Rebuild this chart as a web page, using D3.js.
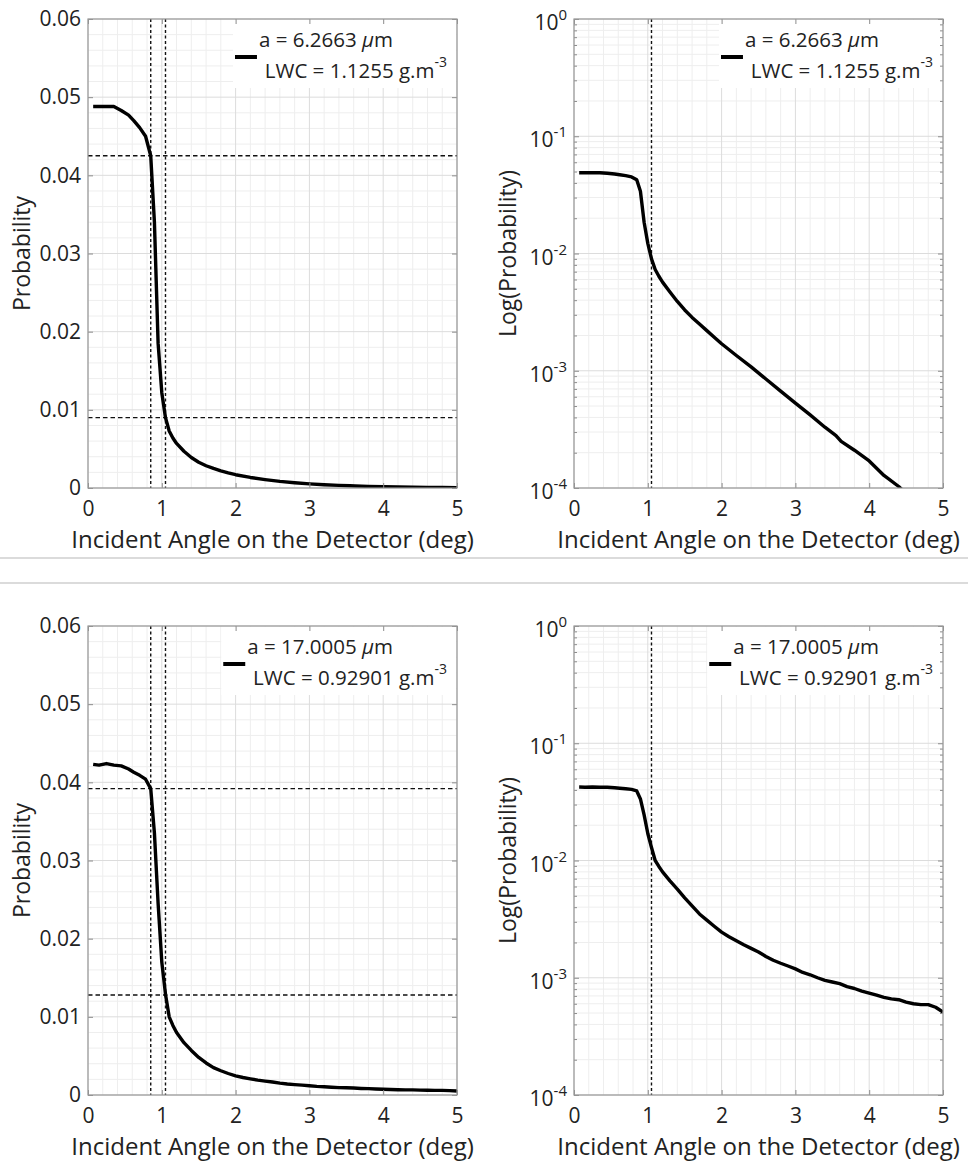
<html>
<head>
<meta charset="utf-8">
<script src="https://d3js.org/d3.v7.min.js"></script>
<style>
  body { margin: 0; background: #fff; }
  svg text { font-family: 'Open Sans', sans-serif; fill: #222; }
</style>
</head>
<body>
<svg id="chart" width="968" height="1165"></svg>
<script>
// angles (deg) and probabilities
var angleTop = [0.07,0.15,0.25,0.35,0.45,0.55,0.62,0.70,0.78,0.85,0.90,0.95,1.00,1.05,1.10,1.15,1.20,1.30,1.40,1.50,1.60,1.70,1.80,1.90,2.00,2.20,2.40,2.60,2.80,3.00,3.20,3.40,3.55,3.62,3.80,4.00,4.20,4.40,4.60,4.80,5.00];
var probTop = [0.0488,0.0488,0.0488,0.0488,0.0483,0.0477,0.0470,0.0461,0.0450,0.0425,0.0340,0.0185,0.0122,0.0090,0.0073,0.0064,0.0057,0.0047,0.0039,0.0033,0.00285,0.00250,0.00220,0.00193,0.00170,0.00135,0.00108,0.00085,0.00067,0.00053,0.00042,0.00033,0.00028,0.00025,0.00021,0.00017,0.000128,0.000103,0.000078,0.000062,0.000049];

var angleBottom = [0.07,0.15,0.25,0.35,0.45,0.55,0.62,0.70,0.78,0.85,0.90,0.95,1.00,1.05,1.10,1.15,1.20,1.30,1.40,1.50,1.60,1.70,1.80,1.90,2.00,2.10,2.20,2.30,2.40,2.50,2.60,2.70,2.80,2.90,3.00,3.10,3.20,3.30,3.40,3.50,3.60,3.70,3.80,3.90,4.00,4.10,4.20,4.30,4.40,4.50,4.60,4.70,4.80,4.90,5.00];
var probBottom = [0.0423,0.0422,0.0424,0.0422,0.0421,0.0417,0.0413,0.0409,0.0404,0.0392,0.0335,0.0245,0.0170,0.0129,0.0100,0.0089,0.0080,0.0067,0.0057,0.0048,0.0041,0.0035,0.0031,0.00275,0.00245,0.00224,0.00207,0.00191,0.00178,0.00166,0.00152,0.00141,0.00133,0.00126,0.00119,0.00111,0.00106,0.00100,0.00095,0.00092,0.00089,0.00084,0.00081,0.00077,0.00074,0.00071,0.00068,0.00066,0.00065,0.00062,0.00060,0.00059,0.00059,0.00056,0.00051];

// dashed guide lines
var vLinesLin = [0.85, 1.05];
var vLinesLog = [1.05];
var hLinesTop = [0.0425, 0.0090];
var hLinesBottom = [0.0392, 0.0128];

// legend texts
var legendTop = ["a = 6.2663 ", "LWC = 1.1255 g.m"];
var legendBottom = ["a = 17.0005 ", "LWC = 0.92901 g.m"];

var xTicks = [0, 1, 2, 3, 4, 5];
var yTicksLin = [0, 0.01, 0.02, 0.03, 0.04, 0.05, 0.06];
var yTicksLinLabels = ["0", "0.01", "0.02", "0.03", "0.04", "0.05", "0.06"];
var yTicksLog = [1e-4, 1e-3, 1e-2, 1e-1, 1];
var yTicksLogExp = ["-4", "-3", "-2", "-1", "0"];

var xLabel = "Incident Angle on the Detector (deg)";

var svg = d3.select("#chart");
var plotW = 369, plotH = 469;
var clipId = 0;

function panel(left, top, isLog, angles, probs, vLines, hLines, legend) {
  var g = svg.append("g").attr("transform", "translate(" + left + "," + top + ")");
  var x = d3.scaleLinear().domain([0, 5]).range([0, plotW]);
  var y = isLog ? d3.scaleLog().domain([1e-4, 1]).range([plotH, 0])
                : d3.scaleLinear().domain([0, 0.06]).range([plotH, 0]);

  // grid: minor first, then major
  var xMinor = x.ticks(25).filter(function(d) { return xTicks.indexOf(d) < 0; });
  var yMinor = isLog ? y.ticks().filter(function(d) { return yTicksLog.indexOf(d) < 0; })
                     : y.ticks(30).filter(function(d) { return Math.abs(Math.round(d * 100) - d * 100) > 1e-6; });
  var majorY = isLog ? yTicksLog : yTicksLin;

  g.selectAll(".gxm").data(xMinor).enter().append("line")
    .attr("x1", x).attr("x2", x).attr("y1", 0).attr("y2", plotH)
    .attr("stroke", "#eeeeee").attr("stroke-width", 1);
  g.selectAll(".gym").data(yMinor).enter().append("line")
    .attr("y1", y).attr("y2", y).attr("x1", 0).attr("x2", plotW)
    .attr("stroke", "#eeeeee").attr("stroke-width", 1);
  g.selectAll(".gx").data(xTicks).enter().append("line")
    .attr("x1", x).attr("x2", x).attr("y1", 0).attr("y2", plotH)
    .attr("stroke", "#dcdcdc").attr("stroke-width", 1);
  g.selectAll(".gy").data(majorY).enter().append("line")
    .attr("y1", y).attr("y2", y).attr("x1", 0).attr("x2", plotW)
    .attr("stroke", "#dcdcdc").attr("stroke-width", 1);

  // legend background hides the grid
  var leg = g.append("g");
  var legRect = leg.append("rect").attr("fill", "#fff");
  var t1 = leg.append("text").attr("x", plotW - 64).attr("y", 28)
    .attr("text-anchor", "end").style("font-size", "20.5px");
  t1.append("tspan").text(legend[0]);
  t1.append("tspan").style("font-style", "italic").text("\u03bc");
  t1.append("tspan").text("m");
  var t2 = leg.append("text").attr("x", plotW - 10).attr("y", 59)
    .attr("text-anchor", "end").style("font-size", "20.5px");
  t2.append("tspan").text(legend[1]);
  t2.append("tspan").attr("dy", -11).style("font-size", "14px").text("-3");
  var tStart = plotW - 64 - t1.node().getComputedTextLength();
  legRect.attr("x", tStart - 26).attr("y", 1).attr("width", plotW - 1 - (tStart - 26)).attr("height", 68);
  leg.append("line").attr("x1", tStart - 24).attr("x2", tStart - 2)
    .attr("y1", 38).attr("y2", 38).attr("stroke", "#000").attr("stroke-width", 4);

  // dashed guides
  g.selectAll(".vl").data(vLines).enter().append("line")
    .attr("x1", x).attr("x2", x).attr("y1", 0).attr("y2", plotH)
    .attr("stroke", "#111").attr("stroke-width", 1.4).attr("stroke-dasharray", "3,2.5");
  g.selectAll(".hl").data(hLines).enter().append("line")
    .attr("y1", y).attr("y2", y).attr("x1", 0).attr("x2", plotW)
    .attr("stroke", "#111").attr("stroke-width", 1.4).attr("stroke-dasharray", "4.5,3");

  // curve
  clipId++;
  g.append("clipPath").attr("id", "clip" + clipId).append("rect")
    .attr("width", plotW).attr("height", plotH);
  var pts = angles.map(function(a, i) { return [a, probs[i]]; });
  g.append("path").datum(pts)
    .attr("clip-path", "url(#clip" + clipId + ")")
    .attr("fill", "none").attr("stroke", "#000").attr("stroke-width", 3.4)
    .attr("stroke-linejoin", "round")
    .attr("d", d3.line().x(function(d) { return x(d[0]); }).y(function(d) { return y(d[1]); }));

  // axes with inward ticks
  g.append("g").attr("transform", "translate(0," + plotH + ")")
    .call(d3.axisBottom(x).tickValues(xTicks).tickSizeInner(-5).tickSizeOuter(0).tickPadding(13).tickFormat(d3.format("d")));
  g.append("g")
    .call(d3.axisTop(x).tickValues(xTicks).tickSizeInner(-5).tickSizeOuter(0).tickFormat(""));
  if (isLog) {
    g.append("g").call(d3.axisLeft(y).tickValues(yTicksLog).tickSizeInner(-5).tickSizeOuter(0).tickFormat(""));
    g.append("g").attr("transform", "translate(" + plotW + ",0)")
      .call(d3.axisRight(y).tickValues(yTicksLog).tickSizeInner(-5).tickSizeOuter(0).tickFormat(""));
    g.append("g").call(d3.axisLeft(y).tickValues(yMinor).tickSizeInner(-3).tickSizeOuter(0).tickFormat(""));
    g.append("g").attr("transform", "translate(" + plotW + ",0)")
      .call(d3.axisRight(y).tickValues(yMinor).tickSizeInner(-3).tickSizeOuter(0).tickFormat(""));
    var lab = g.selectAll(".ylab").data(yTicksLog).enter().append("text")
      .attr("x", -7).attr("y", function(d) { return y(d) + 11; })
      .attr("text-anchor", "end").style("font-size", "21px");
    lab.append("tspan").text("10");
    lab.append("tspan").attr("dy", -10).style("font-size", "15px")
      .text(function(d, i) { return yTicksLogExp[i]; });
  } else {
    g.append("g")
      .call(d3.axisLeft(y).tickValues(yTicksLin).tickSizeInner(-5).tickSizeOuter(0).tickPadding(7)
        .tickFormat(function(d, i) { return yTicksLinLabels[i]; }));
    g.append("g").attr("transform", "translate(" + plotW + ",0)")
      .call(d3.axisRight(y).tickValues(yTicksLin).tickSizeInner(-5).tickSizeOuter(0).tickFormat(""));
  }
  g.selectAll(".domain").remove();
  g.selectAll(".tick line").attr("stroke", "#8c8c8c");
  g.selectAll(".tick text").attr("fill", "#222").style("font-size", "21px").style("font-family", "'Open Sans', sans-serif");

  g.append("rect").attr("width", plotW).attr("height", plotH)
    .attr("fill", "none").attr("stroke", "#9a9a9a").attr("stroke-width", 1.2);

  g.append("text").attr("x", plotW / 2).attr("y", plotH + 60)
    .attr("text-anchor", "middle").style("font-size", "24px").text(xLabel);
  g.append("text").attr("transform", "translate(-58," + (plotH / 2) + ") rotate(-90)")
    .attr("text-anchor", "middle").style("font-size", "23px")
    .text(isLog ? "Log(Probability)" : "Probability");
}

panel(88, 19, false, angleTop, probTop, vLinesLin, hLinesTop, legendTop);
panel(574, 19, true, angleTop, probTop, vLinesLog, [], legendTop);
panel(88, 626, false, angleBottom, probBottom, vLinesLin, hLinesBottom, legendBottom);
panel(574, 626, true, angleBottom, probBottom, vLinesLog, [], legendBottom);

// separator between the two figures
svg.append("line").attr("x1", 0).attr("x2", 968).attr("y1", 558).attr("y2", 558)
  .attr("stroke", "#cfcfcf").attr("stroke-width", 1.5);
svg.append("line").attr("x1", 0).attr("x2", 968).attr("y1", 583).attr("y2", 583)
  .attr("stroke", "#cfcfcf").attr("stroke-width", 1.5);
</script>
</body>
</html>
